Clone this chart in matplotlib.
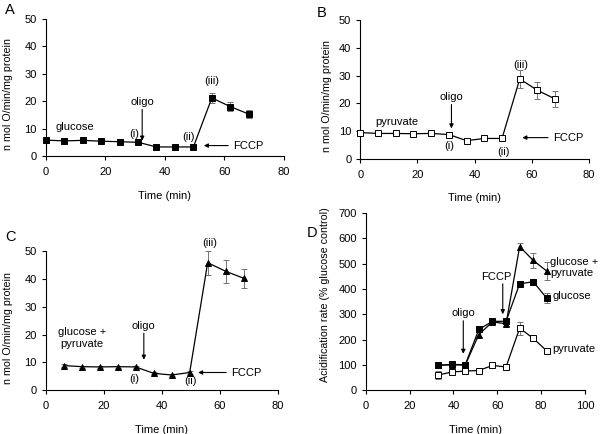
import matplotlib.pyplot as plt

plt.rcParams['font.family'] = ['Liberation Sans', 'DejaVu Sans']

# panel A - glucose
time_a = [0, 6.2, 12.4, 18.6, 24.8, 31, 37.2, 43.4, 49.6, 55.8, 62, 68.2]
glc_a = [5.8, 5.5, 5.7, 5.4, 5.2, 5.0, 3.3, 3.3, 3.3, 21.2, 18.0, 15.3]
glc_a_err = [0.5, 0.4, 0.4, 0.4, 0.4, 0.4, 0.3, 0.3, 0.3, 1.8, 1.7, 1.6]

# panel B - pyruvate
time_b = [0, 6.2, 12.4, 18.6, 24.8, 31, 37.2, 43.4, 49.6, 55.8, 62, 68.2]
pyr_b = [9.5, 9.2, 9.2, 9.1, 9.2, 8.8, 6.6, 7.4, 7.4, 28.8, 24.7, 21.6]
pyr_b_err = [0.5, 0.4, 0.4, 0.4, 0.4, 0.4, 0.4, 0.4, 0.4, 3.2, 3.0, 3.0]

# panel C - glucose + pyruvate
time_c = [6.2, 12.4, 18.6, 24.8, 31, 37.2, 43.4, 49.6, 55.8, 62, 68.2]
gp_c = [8.9, 8.5, 8.4, 8.5, 8.4, 6.1, 5.5, 6.4, 45.9, 42.8, 40.3]
gp_c_err = [0.5, 0.4, 0.4, 0.4, 0.4, 0.4, 0.4, 0.4, 4.3, 4.2, 3.5]

# panel D - acidification
time_d = [33, 39.2, 45.4, 51.6, 57.8, 64, 70.2, 76.4, 82.6]
glc_d = [98, 102, 101, 240, 272, 272, 420, 428, 363]
glc_d_err = [8, 6, 6, 8, 8, 10, 10, 12, 20]
gp_d = [100, 100, 100, 220, 270, 262, 567, 512, 470]
gp_d_err = [8, 6, 6, 8, 8, 10, 15, 28, 35]
pyr_d = [60, 72, 76, 78, 98, 92, 245, 205, 155]
pyr_d_err = [15, 6, 6, 6, 6, 6, 25, 8, 6]

FS = 8
ARROW = dict(arrowstyle='-|>', color='black', lw=0.8, mutation_scale=6,
             shrinkA=0, shrinkB=0)


def style_axis(ax, xmax, ymax, xstep, ystep, ylabel, ylab_x, ylab_y, xlab_y):
    ax.set_xlim(0, xmax)
    ax.set_ylim(0, ymax)
    ax.set_xticks(range(0, xmax + 1, xstep))
    ax.set_yticks(range(0, ymax + 1, ystep))
    for s in ['top', 'right']:
        ax.spines[s].set_visible(False)
    for s in ['left', 'bottom']:
        ax.spines[s].set_linewidth(0.8)
    ax.tick_params(direction='out', length=3, width=0.8, labelsize=FS)
    ax.tick_params(axis='x', pad=5)
    ax.tick_params(axis='y', pad=3.5)
    ax.set_xlabel('Time (min)', fontsize=FS)
    ax.set_ylabel(ylabel, fontsize=7.7)
    ax.xaxis.set_label_coords(0.5, xlab_y)
    ax.yaxis.set_label_coords(ylab_x, ylab_y)


def series(ax, x, y, err, marker, face):
    ax.errorbar(x, y, yerr=err, color='black', ecolor='0.45', elinewidth=0.7,
                capsize=2, capthick=0.7, lw=0.9, marker=marker, ms=5,
                mfc=face, mec='black', mew=0.7, clip_on=False, zorder=3)


fig = plt.figure(figsize=(6, 4.34), dpi=100)
ax_a = fig.add_axes([0.0762, 0.6406, 0.397, 0.3157])
ax_b = fig.add_axes([0.6005, 0.6336, 0.381, 0.3203])
ax_c = fig.add_axes([0.0762, 0.1007, 0.387, 0.3203])
ax_d = fig.add_axes([0.6095, 0.1007, 0.3655, 0.409])

# ── A ────────────────────────────────────────────────────────────────────
style_axis(ax_a, 80, 50, 20, 10, 'n mol O/min/mg protein', -0.137, 0.45, -0.255)
series(ax_a, time_a, glc_a, glc_a_err, 's', 'black')
ax_a.text(9.8, 10.5, 'glucose', fontsize=FS, ha='center', va='center')
ax_a.annotate('oligo', xy=(32.4, 5.6), xytext=(32.4, 18), fontsize=FS,
              ha='center', va='bottom', arrowprops=ARROW)
ax_a.text(29.6, 8.2, '(i)', fontsize=FS, ha='center', va='center')
ax_a.text(47.9, 7.0, '(ii)', fontsize=FS, ha='center', va='center')
ax_a.text(55.8, 27.4, '(iii)', fontsize=FS, ha='center', va='center')
ax_a.annotate('', xy=(53.1, 3.8), xytext=(61.3, 3.8), arrowprops=ARROW)
ax_a.text(63, 3.8, 'FCCP', fontsize=FS, ha='left', va='center')

# ── B ────────────────────────────────────────────────────────────────────
style_axis(ax_b, 80, 50, 20, 10, 'n mol O/min/mg protein', -0.124, 0.45, -0.245)
series(ax_b, time_b, pyr_b, pyr_b_err, 's', 'white')
ax_b.text(12.7, 13.4, 'pyruvate', fontsize=FS, ha='center', va='center')
ax_b.annotate('oligo', xy=(31.9, 11), xytext=(31.9, 20.6), fontsize=FS,
              ha='center', va='bottom', arrowprops=ARROW)
ax_b.text(31.3, 4.8, '(i)', fontsize=FS, ha='center', va='center')
ax_b.text(50.2, 2.6, '(ii)', fontsize=FS, ha='center', va='center')
ax_b.text(56.2, 33.7, '(iii)', fontsize=FS, ha='center', va='center')
ax_b.annotate('', xy=(56.7, 7.7), xytext=(65.7, 7.7), arrowprops=ARROW)
ax_b.text(67.5, 7.7, 'FCCP', fontsize=FS, ha='left', va='center')

# ── C ────────────────────────────────────────────────────────────────────
style_axis(ax_c, 80, 50, 20, 10, 'n mol O/min/mg protein', -0.141, 0.45, -0.25)
series(ax_c, time_c, gp_c, gp_c_err, '^', 'black')
ax_c.text(12.4, 18.8, 'glucose +\npyruvate', fontsize=FS, ha='center',
          va='center', linespacing=1.2)
ax_c.annotate('oligo', xy=(33.8, 11), xytext=(33.8, 21.5), fontsize=FS,
              ha='center', va='bottom', arrowprops=ARROW)
ax_c.text(30.6, 4.0, '(i)', fontsize=FS, ha='center', va='center')
ax_c.text(49.9, 3.4, '(ii)', fontsize=FS, ha='center', va='center')
ax_c.text(56.5, 53, '(iii)', fontsize=FS, ha='center', va='center')
ax_c.annotate('', xy=(52.5, 6.4), xytext=(62.2, 6.4), arrowprops=ARROW)
ax_c.text(64, 6.4, 'FCCP', fontsize=FS, ha='left', va='center')

# ── D ────────────────────────────────────────────────────────────────────
style_axis(ax_d, 100, 700, 20, 100, 'Acidification rate (% glucose control)',
           -0.163, 0.54, -0.195)
series(ax_d, time_d, pyr_d, pyr_d_err, 's', 'white')
series(ax_d, time_d, gp_d, gp_d_err, '^', 'black')
series(ax_d, time_d, glc_d, glc_d_err, 's', 'black')
ax_d.annotate('oligo', xy=(44.5, 144), xytext=(44.5, 285), fontsize=FS,
              ha='center', va='bottom', arrowprops=ARROW)
ax_d.annotate('', xy=(62.5, 300), xytext=(62.5, 420), arrowprops=ARROW)
ax_d.text(59.5, 448, 'FCCP', fontsize=FS, ha='center', va='center')
ax_d.text(84, 485, 'glucose +\npyruvate', fontsize=FS, ha='left',
          va='center', linespacing=1.2)
ax_d.text(85.3, 370, 'glucose', fontsize=FS, ha='left', va='center')
ax_d.text(85.3, 162, 'pyruvate', fontsize=FS, ha='left', va='center')

# panel letters
for label, x, y in [('A', 10, 10), ('B', 322, 13), ('C', 10, 237), ('D', 312, 233)]:
    fig.text(x / 600, 1 - y / 434, label, fontsize=10.5, ha='center', va='center')

fig.savefig('out.png', dpi=100)
